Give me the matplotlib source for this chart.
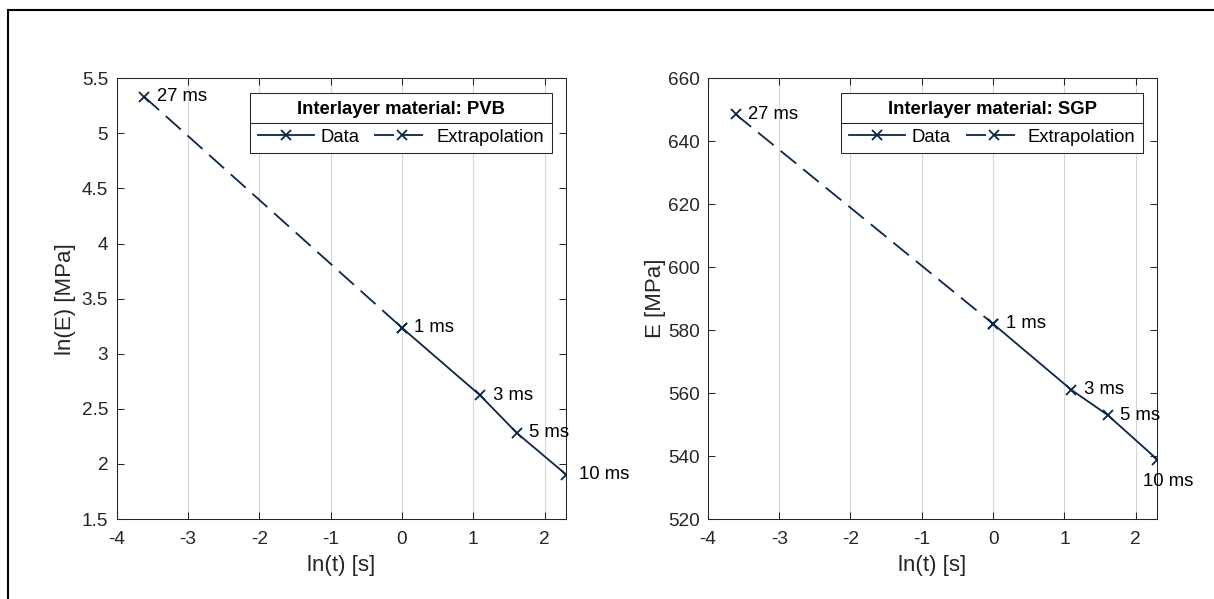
import matplotlib
matplotlib.use("Agg")
import matplotlib.pyplot as plt
from matplotlib.lines import Line2D
from matplotlib.patches import Rectangle
from matplotlib.ticker import FuncFormatter

# ---------------- data ----------------
point_labels = ['27 ms', '1 ms', '3 ms', '5 ms', '10 ms']
ln_t = [-3.612, 0.0, 1.099, 1.609, 2.303]          # ln(t) [s]
lnE_pvb = [5.333, 3.236, 2.621, 2.282, 1.903]       # ln(E) [MPa], PVB
E_sgp = [648.6, 582.0, 561.0, 553.0, 538.9]         # E [MPa], SGP

xticks = [-4, -3, -2, -1, 0, 1, 2]
yticks_pvb = [1.5, 2, 2.5, 3, 3.5, 4, 4.5, 5, 5.5]
yticks_sgp = [520, 540, 560, 580, 600, 620, 640, 660]

titles = ['Interlayer material: PVB', 'Interlayer material: SGP']
ylabels = ['ln(E) [MPa]', 'E [MPa]']
xlabel = 'ln(t) [s]'
legend_labels = ['Data', 'Extrapolation']

# ---------------- style ----------------
plt.rcParams['font.family'] = ['Liberation Sans', 'DejaVu Sans']
W, H = 1214, 599
DPI = 100
fig = plt.figure(figsize=(W / DPI, H / DPI), dpi=DPI)
fig.patch.set_facecolor('white')

LINE_COLOR = '#0b2747'
AX_COLOR = '#262626'
FS = 13.3
TICK_FS = 13.7
LW = 1.3

# figure frame (left/top visible, rest off-canvas)
fig.add_artist(Rectangle((8 / W, -0.2), 1.5, (1 - 10 / H) + 0.2,
                         transform=fig.transFigure, fill=False,
                         edgecolor='black', linewidth=1.5, clip_on=False))

ax_rects = [
    [116.5 / W, 1 - 519 / H, 449.7 / W, 440.7 / H],
    [707.9 / W, 1 - 519 / H, 449.4 / W, 440.7 / H],
]
y_series = [lnE_pvb, E_sgp]
y_lims = [(1.5, 5.5), (520, 660)]
y_ticks = [yticks_pvb, yticks_sgp]
ylabel_pads = [4, 1]
# label offsets in points: (dx, dy, ha)
label_offsets = [
    [(9, 0, 'left')] * 5,
    [(9, 0, 'left')] * 4 + [(8, -16, 'center')],
]

legends = []
for i in range(2):
    ax = fig.add_axes(ax_rects[i])
    ys = y_series[i]
    # data (solid) from 1 ms onward; extrapolation (dashed) 27 ms -> 1 ms
    ax.plot(ln_t[1:], ys[1:], color=LINE_COLOR, lw=LW, marker='x',
            markersize=7, markeredgewidth=LW, label=legend_labels[0], zorder=3)
    ax.plot(ln_t[:2], ys[:2], color=LINE_COLOR, lw=LW, marker='x',
            markersize=7, markeredgewidth=LW, dashes=(11.1, 5.0),
            label=legend_labels[1], zorder=3)

    for j, lab in enumerate(point_labels):
        dx, dy, ha = label_offsets[i][j]
        ax.annotate(lab, (ln_t[j], ys[j]), xytext=(dx, dy),
                    textcoords='offset points', ha=ha, va='center',
                    fontsize=FS, color='black', annotation_clip=False)

    ax.set_xlim(-4, 2.303)
    ax.set_ylim(*y_lims[i])
    ax.set_xticks(xticks)
    ax.set_yticks(y_ticks[i])
    ax.xaxis.set_major_formatter(FuncFormatter(lambda v, p: '%g' % v))
    ax.yaxis.set_major_formatter(FuncFormatter(lambda v, p: '%g' % v))
    ax.tick_params(axis='both', direction='in', length=5, width=0.75,
                   colors=AX_COLOR, labelsize=TICK_FS, top=True, right=True)
    ax.tick_params(axis='x', pad=9)
    ax.tick_params(axis='y', pad=6)
    for s in ax.spines.values():
        s.set_color(AX_COLOR)
        s.set_linewidth(0.75)
    ax.grid(axis='x', color='#d6d6d6', linewidth=0.8)
    ax.set_axisbelow(True)
    ax.set_xlabel(xlabel, fontsize=16, color=AX_COLOR, labelpad=5.0)
    ax.set_ylabel(ylabels[i], fontsize=16, color=AX_COLOR,
                  labelpad=ylabel_pads[i])

    leg = ax.legend(loc='upper right', bbox_to_anchor=(0.969, 0.966),
                    borderaxespad=0, ncol=2, fontsize=FS,
                    title=titles[i],
                    title_fontproperties={'weight': 'bold', 'size': FS},
                    fancybox=False, framealpha=1, edgecolor=AX_COLOR,
                    handlelength=3.03, handletextpad=0.35,
                    columnspacing=0.82, borderpad=0.42,
                    labelspacing=0.57, numpoints=1)
    leg.get_frame().set_linewidth(0.75)
    legends.append(leg)

# separator line between legend title and entries
fig.canvas.draw()
renderer = fig.canvas.get_renderer()
for leg in legends:
    fb = leg.get_frame().get_window_extent(renderer)
    tb = leg.get_title().get_window_extent(renderer)
    hb = leg._legend_handle_box.get_window_extent(renderer)
    ymid = (tb.y0 + hb.y1) / 2.0
    fig.add_artist(Line2D([fb.x0 / W, fb.x1 / W], [ymid / H, ymid / H],
                          transform=fig.transFigure, color=AX_COLOR,
                          linewidth=0.75, zorder=10))

fig.savefig('out.png', dpi=DPI, facecolor='white')
